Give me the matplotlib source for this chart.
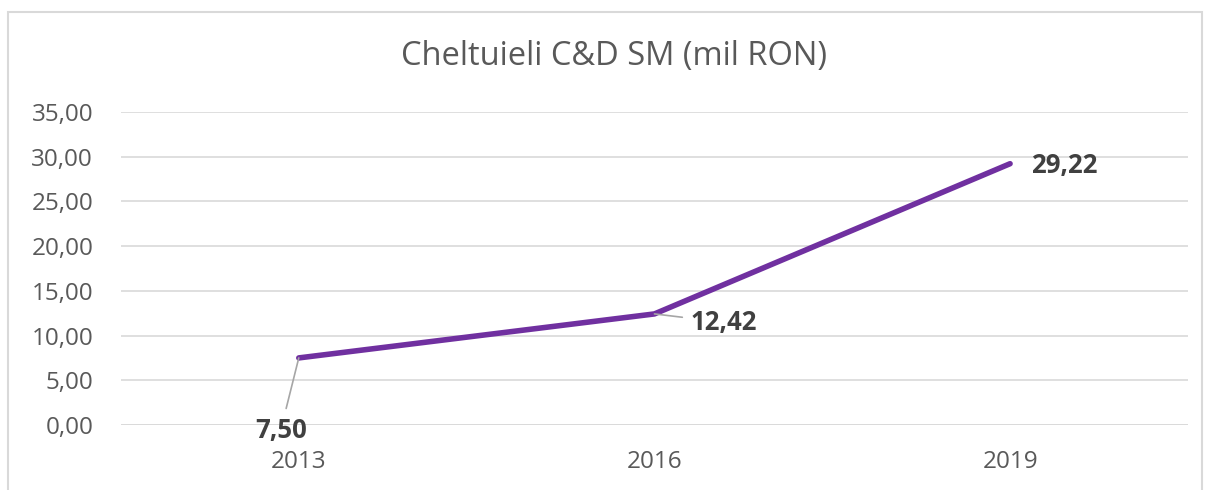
import matplotlib
matplotlib.use("Agg")
import matplotlib.pyplot as plt
from matplotlib.patches import Rectangle

years = ["2013", "2016", "2019"]
values = [7.50, 12.42, 29.22]
yticks = [0, 5, 10, 15, 20, 25, 30, 35]

plt.rcParams["font.family"] = ["Open Sans", "DejaVu Sans"]

fig = plt.figure(figsize=(12.06, 4.90), dpi=100, facecolor="white")
ax = fig.add_axes([0.1003, 0.1327, 0.8847, 0.6387])

x = list(range(len(years)))
ax.plot(x, values, color="#7030A0", linewidth=4, solid_capstyle="round", zorder=3)

ax.set_xlim(-0.5, 2.5)
ax.set_ylim(0, 35)
ax.set_yticks(yticks)
ax.set_yticklabels([f"{v:.2f}".replace(".", ",") for v in yticks])
ax.set_xticks(x)
ax.set_xticklabels(years)
ax.tick_params(axis="both", length=0, labelsize=17.5, colors="#595959")
ax.tick_params(axis="x", pad=18)
ax.tick_params(axis="y", pad=20)
ax.grid(axis="y", color="#D9D9D9", linewidth=1.2)
ax.set_axisbelow(True)
for s in ax.spines.values():
    s.set_visible(False)
ax.axhline(0, color="#D9D9D9", linewidth=1.2, zorder=1)

# data labels with leader lines
offsets = [(-13, -52), (50, -6), (39, -1)]
for xi, v, off in zip(x, values, offsets):
    label = f"{v:.2f}".replace(".", ",")
    arrow = None
    if xi < 2:
        arrow = dict(arrowstyle="-", color="#A6A6A6", linewidth=1.2,
                     shrinkA=4, shrinkB=0)
    ax.annotate(label, xy=(xi, v), xytext=off, textcoords="offset points",
                ha="center", va="center", fontsize=18.5, fontweight="bold",
                color="#404040", arrowprops=arrow, zorder=4)

fig.text(0.509, 0.884, "Cheltuieli C&D SM (mil RON)", ha="center", va="center",
         fontsize=23.5, color="#595959")

fig.patches.append(Rectangle((8 / 1206, -0.01), 1194 / 1206, 1 - 12 / 490 + 0.01,
                             transform=fig.transFigure, fill=False,
                             edgecolor="#D9D9D9", linewidth=1.5))

fig.savefig("out.png", dpi=100, facecolor="white")
